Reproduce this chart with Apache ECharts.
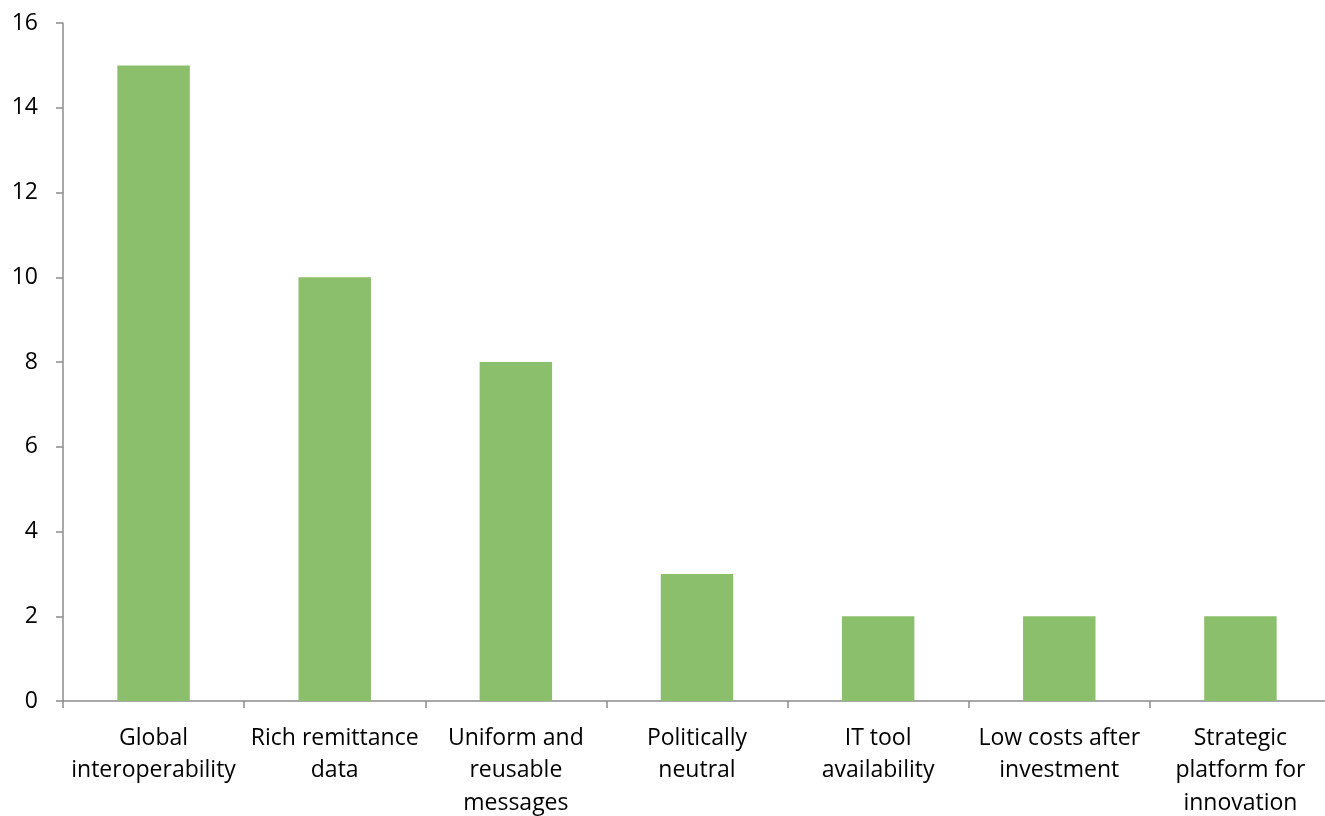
<!DOCTYPE html>
<html>
<head>
<meta charset="utf-8">
<script src="https://cdn.jsdelivr.net/npm/echarts@6/dist/echarts.min.js"></script>
<style>
  html, body { margin: 0; padding: 0; background: #fff; }
  #chart { width: 1325px; height: 816px; }
</style>
</head>
<body>
<div id="chart"></div>
<script>
const categories = [
  'Global\ninteroperability',
  'Rich remittance\ndata',
  'Uniform and\nreusable\nmessages',
  'Politically\nneutral',
  'IT tool\navailability',
  'Low costs after\ninvestment',
  'Strategic\nplatform for\ninnovation',
]

const counts = [15, 10, 8, 3, 2, 2, 2]

const axisColor = '#8c8c8c'

echarts.init(document.getElementById('chart')).setOption({
  animation: false,
  grid: {
    left: 63,
    width: 1268,
    top: 23,
    bottom: 115,
    outerBoundsMode: 'none',
  },
  xAxis: {
    type: 'category',
    data: categories,
    axisLine: { lineStyle: { color: axisColor, width: 1.5 } },
    axisTick: { show: true, length: 7, lineStyle: { color: axisColor, width: 1.5 } },
    axisLabel: {
      interval: 0,
      margin: 21,
      color: '#000',
      fontFamily: 'Open Sans',
      fontSize: 23,
      lineHeight: 32.5,
    },
  },
  yAxis: {
    type: 'value',
    min: 0,
    max: 16,
    interval: 2,
    splitLine: { show: false },
    axisLine: { show: true, lineStyle: { color: axisColor, width: 1.5 } },
    axisTick: { show: true, length: 7, lineStyle: { color: axisColor, width: 1.5 } },
    axisLabel: {
      margin: 25,
      color: '#000',
      fontFamily: 'Open Sans',
      fontSize: 23,
    },
  },
  series: [
    {
      type: 'bar',
      data: counts,
      barWidth: '40%',
      itemStyle: { color: '#8bbf6b' },
    },
  ],
})
</script>
</body>
</html>
